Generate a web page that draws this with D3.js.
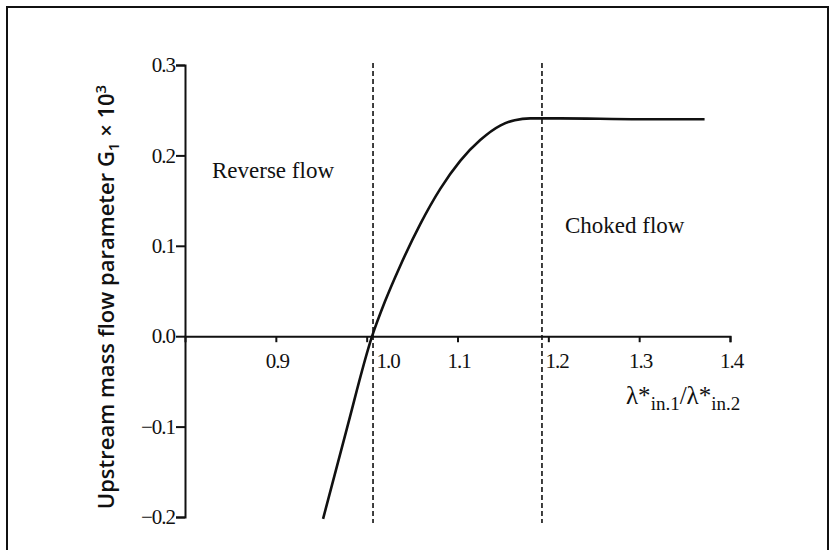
<!DOCTYPE html>
<html>
<head>
<meta charset="utf-8">
<script src="https://cdn.jsdelivr.net/npm/d3@7"></script>
<style>
  body { margin: 0; background: #fff; }
  svg { display: block; }
  .axis path, .axis line { stroke: #111; stroke-width: 2; }
  .axis text { font-family: "Liberation Serif", serif; font-size: 21px; fill: #111; }
</style>
</head>
<body>
<svg class="chart" width="836" height="550"></svg>
<script>
// ratio lambda*in,1 / lambda*in,2
var ratioX = [0.952, 0.978, 1.006, 1.020, 1.037, 1.059, 1.081, 1.103, 1.125, 1.147, 1.163, 1.180, 1.213, 1.300, 1.372];
// upstream mass flow parameter G1 x 10^3
var paramG = [-0.202, -0.103, 0.000, 0.038, 0.078, 0.124, 0.163, 0.194, 0.217, 0.233, 0.239, 0.241, 0.241, 0.240, 0.240];

var xTicks = [0.9, 1.0, 1.1, 1.2, 1.3, 1.4];
var yTicks = [-0.2, -0.1, 0.0, 0.1, 0.2, 0.3];
var boundaries = [1.007, 1.193];
var regionLabels = ["Reverse flow", "Choked flow"];

var svg = d3.select(".chart");

var x = d3.scaleLinear().domain([0.8, 1.4]).range([185, 730]),
    y = d3.scaleLinear().domain([-0.2, 0.3]).range([517, 65]);

// frame round the figure (no bottom edge)
svg.append("path")
    .attr("d", "M7,550 V7 H828 V550")
    .attr("fill", "none")
    .attr("stroke", "#111")
    .attr("stroke-width", 2);

// y axis
svg.append("g")
    .attr("class", "axis axis--y")
    .attr("transform", "translate(" + x(0.8) + ",0)")
    .call(d3.axisLeft(y).tickValues(yTicks).tickSize(9)
        .tickFormat(function(d) { return (d < 0 ? "\u2212" : "") + Math.abs(d).toFixed(1); }))
    .call(function(g) { g.selectAll("text").attr("dx", "2").attr("letter-spacing", "-1"); });

// x axis through zero
svg.append("g")
    .attr("class", "axis axis--x")
    .attr("transform", "translate(0," + y(0) + ")")
    .call(d3.axisBottom(x).tickValues(xTicks).tickSize(6).tickPadding(11).tickFormat(d3.format(".1f")))
    .call(function(g) {
        g.selectAll("text").attr("letter-spacing", "-1");
        // labels that sit on a dashed boundary get pushed to its right side
        g.selectAll(".tick").each(function(d) {
            var near = boundaries.filter(function(b) { return Math.abs(x(b) - x(d)) < 15; });
            var t = d3.select(this).select("text");
            if (near.length) {
                t.attr("text-anchor", "start").attr("x", x(near[0]) - x(d) + 3);
            } else {
                t.attr("dx", "1");
            }
        });
    });

// boundaries between regimes
svg.append("g")
    .selectAll("line")
    .data(boundaries)
    .enter().append("line")
    .attr("x1", function(d) { return x(d); })
    .attr("x2", function(d) { return x(d); })
    .attr("y1", 63)
    .attr("y2", 523)
    .attr("stroke", "#111")
    .attr("stroke-width", 1.6)
    .attr("stroke-dasharray", "5,3");

// the curve
var pts = ratioX.map(function(d, i) { return [d, paramG[i]]; });
var line = d3.line()
    .x(function(d) { return x(d[0]); })
    .y(function(d) { return y(d[1]); })
    .curve(d3.curveMonotoneX);

svg.append("path")
    .datum(pts)
    .attr("d", line)
    .attr("fill", "none")
    .attr("stroke", "#111")
    .attr("stroke-width", 2.6);

// region labels
svg.append("text")
    .attr("x", 212).attr("y", 178)
    .attr("font-family", "Liberation Serif, serif")
    .attr("font-size", 23)
    .attr("fill", "#111")
    .text(regionLabels[0]);

svg.append("text")
    .attr("x", 565).attr("y", 233)
    .attr("font-family", "Liberation Serif, serif")
    .attr("font-size", 23)
    .attr("fill", "#111")
    .text(regionLabels[1]);

// x axis title
var xt = svg.append("text")
    .attr("x", 626).attr("y", 404)
    .attr("font-family", "Liberation Serif, serif")
    .attr("font-size", 25)
    .attr("fill", "#111");
xt.append("tspan").text("\u03bb*");
xt.append("tspan").attr("font-size", 19).attr("dy", 6).text("in.1");
xt.append("tspan").attr("dy", -6).text("/\u03bb*");
xt.append("tspan").attr("font-size", 19).attr("dy", 6).text("in.2");

// y axis title
var yt = svg.append("text")
    .attr("transform", "translate(114,297) rotate(-90)")
    .attr("text-anchor", "middle")
    .attr("font-family", "Open Sans, sans-serif")
    .attr("font-weight", 600)
    .attr("font-size", 22)
    .attr("fill", "#111");
yt.append("tspan").text("Upstream mass flow parameter G");
yt.append("tspan").attr("font-size", 15).attr("dy", 5).text("1");
yt.append("tspan").attr("dy", -5).text(" \u00d7 10");
yt.append("tspan").attr("font-size", 15).attr("dy", -8).text("3");
</script>
</body>
</html>
